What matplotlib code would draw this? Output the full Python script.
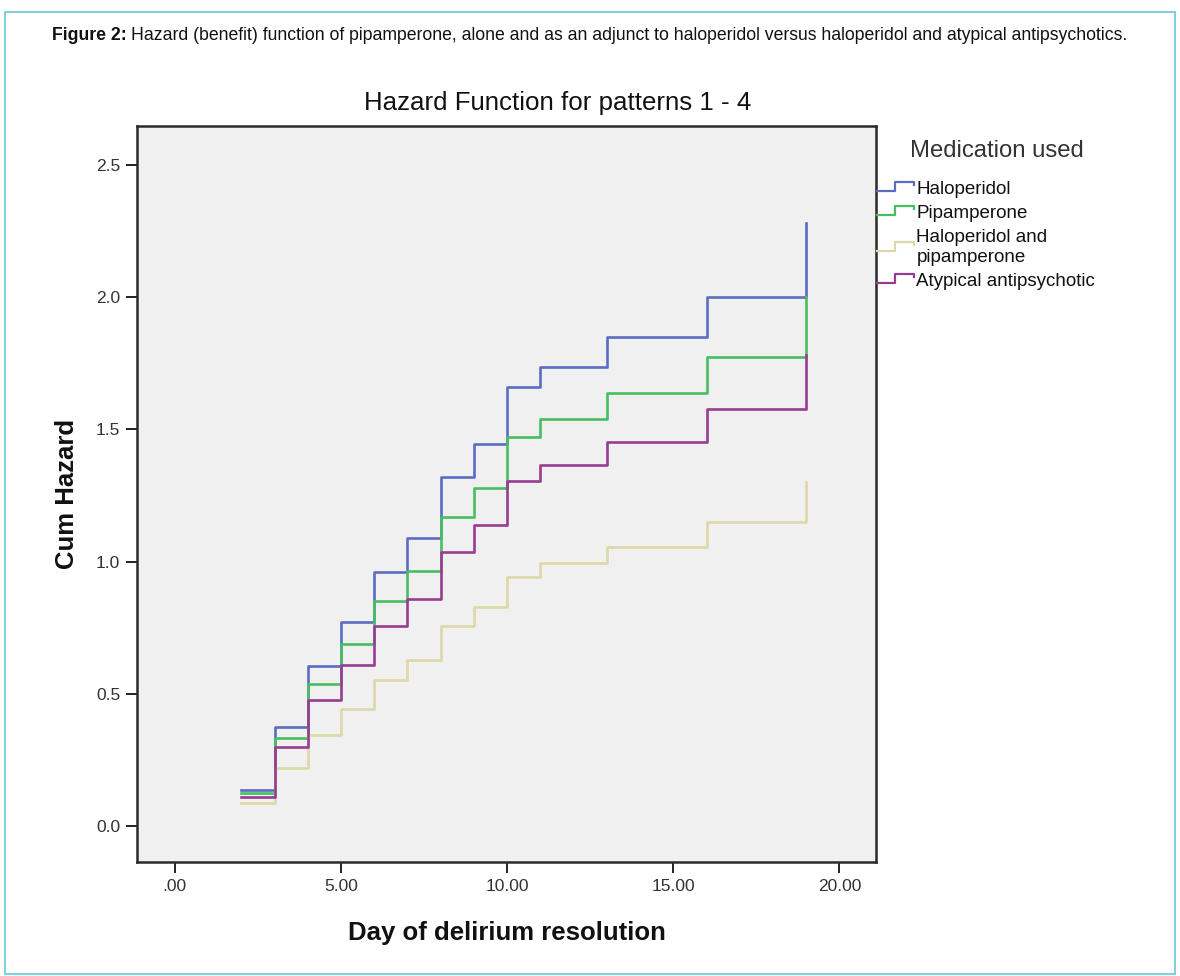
import matplotlib
matplotlib.use("Agg")
import matplotlib.pyplot as plt
from matplotlib.lines import Line2D
from matplotlib.patches import Rectangle
from matplotlib.legend_handler import HandlerLine2D

plt.rcParams["font.family"] = ["Liberation Sans", "DejaVu Sans"]

# data
days = [2, 3, 4, 5, 6, 7, 8, 9, 10, 11, 13, 16, 19]
haloperidol = [0.136, 0.375, 0.605, 0.77, 0.96, 1.09, 1.32, 1.444, 1.66, 1.735, 1.85, 2.0, 2.28]
pipamperone = [0.125, 0.333, 0.537, 0.688, 0.85, 0.965, 1.168, 1.278, 1.47, 1.539, 1.637, 1.773, 2.0]
halo_pipa = [0.087, 0.22, 0.344, 0.442, 0.552, 0.628, 0.756, 0.83, 0.94, 0.994, 1.055, 1.149, 1.30]
atypical = [0.11, 0.30, 0.476, 0.609, 0.755, 0.86, 1.036, 1.138, 1.304, 1.365, 1.452, 1.576, 1.78]

labels = ["Haloperidol", "Pipamperone", "Haloperidol and\npipamperone", "Atypical antipsychotic"]
series = [haloperidol, pipamperone, halo_pipa, atypical]
colors = ["#5b6cc2", "#46bf60", "#dcd8a8", "#983c92"]

xticks = [0, 5, 10, 15, 20]
xticklabels = [".00", "5.00", "10.00", "15.00", "20.00"]
yticks = [0.0, 0.5, 1.0, 1.5, 2.0, 2.5]
yticklabels = ["0.0", "0.5", "1.0", "1.5", "2.0", "2.5"]


class StepHandler(HandlerLine2D):
    # little step glyph like the SPSS legend
    def create_artists(self, legend, orig_handle, xdescent, ydescent,
                       width, height, fontsize, trans):
        y0 = height / 2 - ydescent - 0.18 * fontsize
        y1 = height / 2 - ydescent + 0.3 * fontsize
        xs = [-xdescent, -xdescent + 0.5 * width, -xdescent + 0.5 * width,
              -xdescent + width, -xdescent + width]
        ys = [y0, y0, y1, y1, y1 - 0.15 * fontsize]
        ln = Line2D(xs, ys, color=orig_handle.get_color(), lw=1.6,
                    transform=trans)
        return [ln]


W, H = 1180, 976
fig = plt.figure(figsize=(W / 100, H / 100), dpi=100)
fig.patch.set_facecolor("white")

# outer cyan frame
fig.add_artist(Rectangle((5 / W, 1 - 974 / H), 1170 / W, 962 / H,
                         transform=fig.transFigure, fill=False,
                         edgecolor="#7fd3dc", lw=1.5))

# caption
cap_y = 1 - 36 / H
t1 = fig.text(52 / W, cap_y, "Figure 2:", fontsize=12.7, fontweight="bold",
              va="center", ha="left", color="#111")
fig.canvas.draw()
bb = t1.get_window_extent()
fig.text((bb.x1 + 4) / W, cap_y,
         "Hazard (benefit) function of pipamperone, alone and as an adjunct to "
         "haloperidol versus haloperidol and atypical antipsychotics.",
         fontsize=12.7, va="center", ha="left", color="#111")

ax = fig.add_axes([137 / W, 1 - 862 / H, (876 - 137) / W, (862 - 126) / H])
ax.set_facecolor("#f0f0f0")

for vals, lab, c in zip(series, labels, colors):
    ax.step(days, vals, where="post", color=c, lw=1.9, label=lab)

ax.set_xlim(-1.14, 21.1)
ax.set_ylim(-0.136, 2.647)
ax.set_xticks(xticks)
ax.set_xticklabels(xticklabels)
ax.set_yticks(yticks)
ax.set_yticklabels(yticklabels)
ax.tick_params(direction="out", length=8, width=1.4, labelsize=12.5,
               colors="#222", labelcolor="#333", pad=4)
for sp in ax.spines.values():
    sp.set_linewidth(1.8)
    sp.set_color("#2a2a2a")

ax.set_xlabel("Day of delirium resolution", fontsize=18.5, fontweight="bold",
              labelpad=20, color="#111")
ax.set_ylabel("Cum Hazard", fontsize=18.5, fontweight="bold", labelpad=12,
              color="#111")
fig.text(558 / W, 1 - 103 / H, "Hazard Function for patterns 1 - 4",
         fontsize=18.6, ha="center", va="center", color="#111")

# legend
fig.text(910 / W, 1 - 151 / H, "Medication used", fontsize=17.2,
         ha="left", va="center", color="#333")
handles = [Line2D([], [], color=c) for c in colors]
leg = fig.legend(handles, labels, loc="upper left",
                 bbox_to_anchor=(877 / W, 1 - 181 / H),
                 bbox_transform=fig.transFigure, frameon=False,
                 fontsize=13.5, handlelength=1.95, handletextpad=0.15,
                 labelspacing=0.37, borderpad=0, borderaxespad=0,
                 handler_map={Line2D: StepHandler()})
for t in leg.get_texts():
    t.set_color("#111")
    t.set_linespacing(1.25)

fig.savefig("out.png", dpi=100)
